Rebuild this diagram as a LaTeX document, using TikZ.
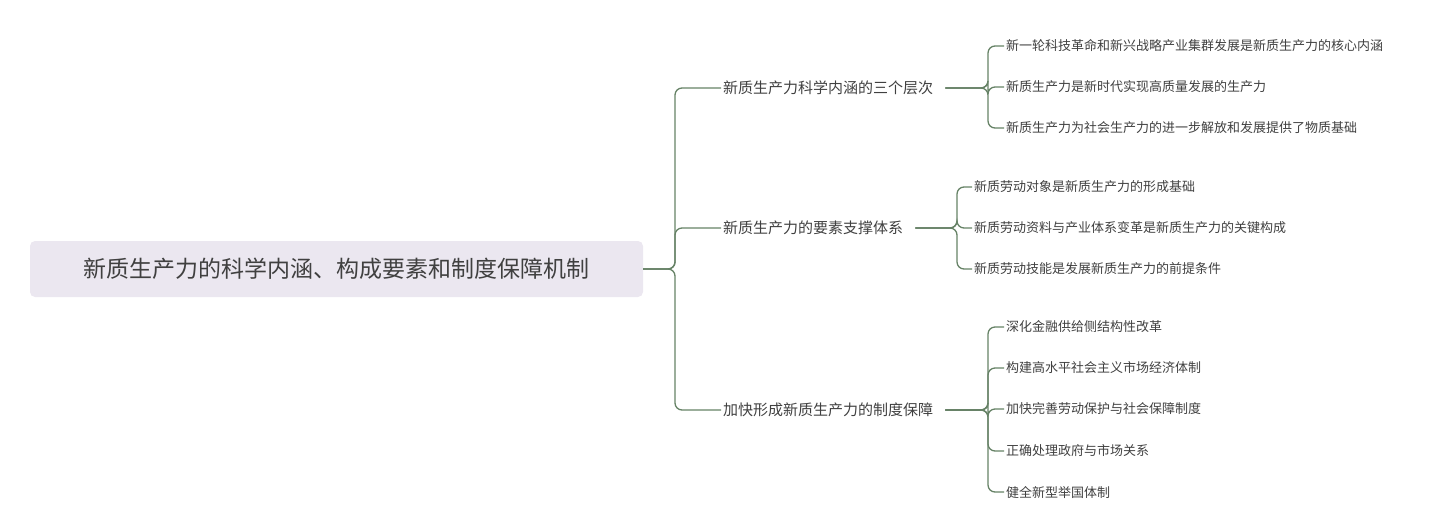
\documentclass[tikz,border=0pt]{standalone}
\usepackage{fontspec}
\setmainfont{Noto Sans CJK SC}
\begin{document}
\begin{tikzpicture}[x=1pt,y=-1pt,
  ln/.style={draw=black!45!green!20!gray, line width=1.3pt, rounded corners=7pt},
  br/.style={anchor=west, inner sep=0pt, font=\fontsize{15}{18}\selectfont, text=black!75},
  lf/.style={anchor=west, inner sep=0pt, font=\fontsize{13}{16}\selectfont, text=black!75}]
\useasboundingbox (0,0) rectangle (1450,509);
\node[fill={rgb,255:red,235;green,231;blue,240}, rounded corners=5pt, minimum width=613pt, minimum height=56pt, inner sep=0pt,
  font=\fontsize{23}{28}\selectfont, text=black!75] (root) at (336.5,269) {新质生产力的科学内涵、构成要素和制度保障机制};
\node[br] (b1) at (723,88) {新质生产力科学内涵的三个层次};
\node[br] (b2) at (723,228) {新质生产力的要素支撑体系};
\node[br] (b3) at (723,410) {加快形成新质生产力的制度保障};
\coordinate (j) at (675,269);
\foreach \b in {b1,b2,b3} \draw[ln] (root.east) -- (j) |- ([xshift=-2pt]\b.west);
% leaves b1
\coordinate (j1) at (988,88);
\node[lf] (l11) at (1006,46) {新一轮科技革命和新兴战略产业集群发展是新质生产力的核心内涵};
\node[lf] (l12) at (1006,87) {新质生产力是新时代实现高质量发展的生产力};
\node[lf] (l13) at (1006,128) {新质生产力为社会生产力的进一步解放和发展提供了物质基础};
\foreach \l in {l11,l12,l13} \draw[ln] ([xshift=12pt]b1.east) -- (j1) |- ([xshift=-2pt]\l.west);
\coordinate (j2) at (957,228);
\node[lf] (l21) at (974,187) {新质劳动对象是新质生产力的形成基础};
\node[lf] (l22) at (974,228) {新质劳动资料与产业体系变革是新质生产力的关键构成};
\node[lf] (l23) at (974,269) {新质劳动技能是发展新质生产力的前提条件};
\foreach \l in {l21,l22,l23} \draw[ln] ([xshift=12pt]b2.east) -- (j2) |- ([xshift=-2pt]\l.west);
\coordinate (j3) at (988,410);
\node[lf] (l31) at (1006,327) {深化金融供给侧结构性改革};
\node[lf] (l32) at (1006,368) {构建高水平社会主义市场经济体制};
\node[lf] (l33) at (1006,409) {加快完善劳动保护与社会保障制度};
\node[lf] (l34) at (1006,451) {正确处理政府与市场关系};
\node[lf] (l35) at (1006,492) {健全新型举国体制};
\foreach \l in {l31,l32,l33,l34,l35} \draw[ln] ([xshift=12pt]b3.east) -- (j3) |- ([xshift=-2pt]\l.west);
\end{tikzpicture}
\end{document}
